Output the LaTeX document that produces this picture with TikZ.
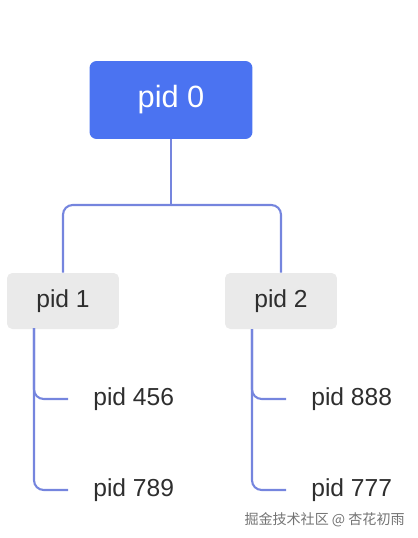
\documentclass[tikz,border=0pt]{standalone}
\usepackage{fontspec}
\setmainfont{Liberation Sans}
\newfontfamily\cjk{Noto Sans CJK SC}
\usepackage{tikz}
\usetikzlibrary{positioning}
\definecolor{pidblue}{HTML}{4B73F1}
\definecolor{pidgray}{HTML}{EAEAEA}
\definecolor{pidline}{HTML}{7585DE}
\definecolor{pidtext}{HTML}{2E2E2E}

\begin{document}
\begin{tikzpicture}[x=0.02cm,y=-0.02cm,font=\fontsize{14}{16}\selectfont,
  rb/.style={fill=pidblue,text=white,rounded corners=4pt,minimum width=3.26cm,
             minimum height=1.56cm,font=\fontsize{17.5}{20}\selectfont},
  sb/.style={fill=pidgray,text=pidtext,rounded corners=3pt,minimum width=2.24cm,
             minimum height=1.12cm},
  lf/.style={text=pidtext,inner sep=0pt,anchor=west},
  a/.style={pidline,line width=1.2pt,rounded corners=5.5pt}]
\useasboundingbox (0,0) rectangle (418,538);
\node[rb] (p0) at (171,100) {pid 0};
\node[sb] (p1) at (63,301)  {pid 1};
\node[sb] (p2) at (281,301) {pid 2};
\node[lf] (c1) at (93,399)  {pid 456};
\node[lf] (c2) at (93,490)  {pid 789};
\node[lf] (c3) at (311,399) {pid 888};
\node[lf] (c4) at (311,490) {pid 777};
\coordinate (fk) at (171,205);
\coordinate (t1) at (34,328);
\coordinate (t2) at (252,329);
\draw[a,rounded corners=0pt] (p0) -- (fk);
\foreach \b in {p1,p2} \draw[a] (fk) -| (\b);
\foreach \c in {c1,c2} \draw[a,shorten >=0.5cm] (t1) |- (\c.west);
\foreach \c in {c3,c4} \draw[a,shorten >=0.5cm] (t2) |- (\c.west);
\node[anchor=east,inner sep=0pt,text=black!55,font=\cjk\fontsize{8}{10}\selectfont] (wm)
  at (405,520) {掘金技术社区 @ 杏花初雨};
\end{tikzpicture}
\end{document}
